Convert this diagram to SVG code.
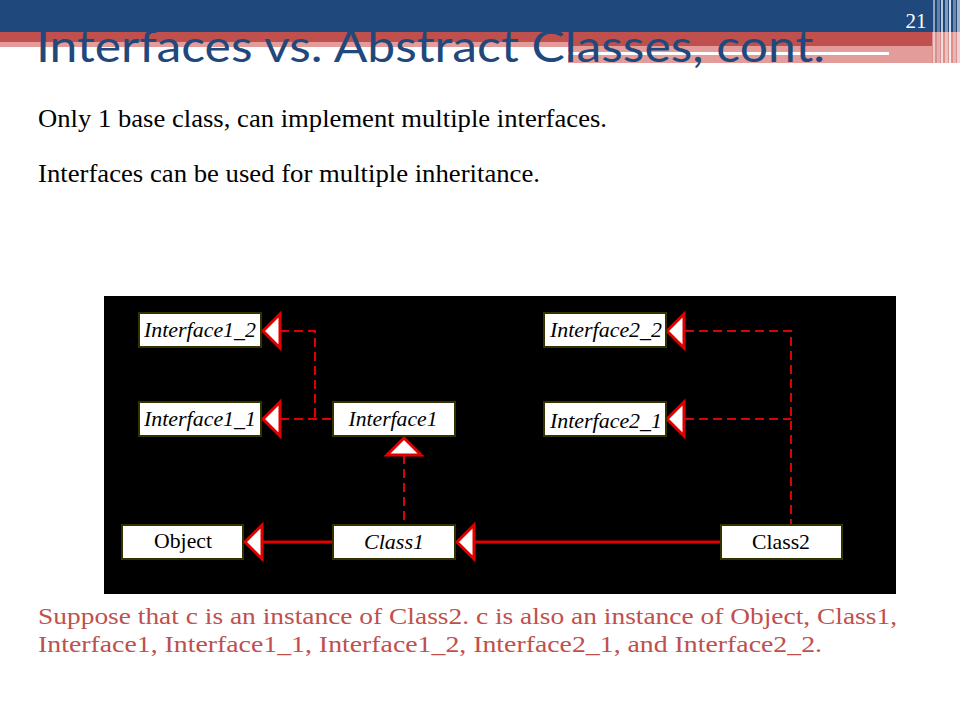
<svg xmlns="http://www.w3.org/2000/svg" width="960" height="720" viewBox="0 0 960 720">
<style>
.title{font-family:Lato,"Open Sans","DejaVu Sans",sans-serif;font-size:45px;fill:#1f497d}
.body{font-family:"Liberation Serif","Times New Roman",serif;font-size:26px;fill:#000}
.red{font-family:"Liberation Serif","Times New Roman",serif;font-size:24px;fill:#c0504d}
.box{fill:#fff;stroke:#333300;stroke-width:2}
.it{font-family:"Liberation Serif","Times New Roman",serif;font-size:21px;font-style:italic;fill:#000;text-anchor:middle}
.rm{font-family:"Liberation Serif","Times New Roman",serif;font-size:21px;fill:#000;text-anchor:middle}
.dash{fill:none;stroke:#e00000;stroke-width:2;stroke-dasharray:9,5}
.solid{fill:none;stroke:#e00000;stroke-width:3}
.tri{fill:#fff;stroke:#e00000;stroke-width:3;stroke-linejoin:miter}
</style>
<rect width="960" height="720" fill="#fff"/>
<!-- header bands -->
<rect x="0" y="0" width="960" height="32" fill="#1f497d"/>
<rect x="0" y="32" width="932" height="10" fill="#c0504d"/>
<rect x="0" y="42" width="568" height="5" fill="#e39c9a"/>
<rect x="568" y="42" width="364" height="4" fill="#c0504d"/>
<rect x="568" y="46" width="372" height="17" fill="#e39c9a"/>
<rect x="568" y="52" width="321" height="3" fill="#fff"/>
<rect x="932" y="32" width="28" height="31" fill="#d9908e"/>
<g fill="#fff">
<rect x="933" y="0" width="2" height="66" opacity="0.5"/>
<rect x="937" y="0" width="3" height="66" opacity="0.3"/>
<rect x="941" y="0" width="2" height="66" opacity="0.7"/>
<rect x="945" y="0" width="3" height="66" opacity="0.45"/>
<rect x="949" y="0" width="2" height="66" opacity="0.8"/>
<rect x="953" y="0" width="3" height="66" opacity="0.35"/>
<rect x="957" y="0" width="3" height="66" opacity="0.6"/>
</g>
<text x="916" y="28" font-family="Liberation Serif,serif" font-size="21" fill="#fff" text-anchor="middle">21</text>
<text class="title" x="36" y="62" textLength="789" lengthAdjust="spacingAndGlyphs">Interfaces vs. Abstract Classes, cont.</text>
<!-- body text -->
<text class="body" x="38" y="127" textLength="569" lengthAdjust="spacingAndGlyphs">Only 1 base class, can implement multiple interfaces.</text>
<text class="body" x="38" y="182" textLength="502" lengthAdjust="spacingAndGlyphs">Interfaces can be used for multiple inheritance.</text>
<!-- diagram background -->
<rect x="104" y="296" width="792" height="298" fill="#000"/>
<!-- connectors -->
<g id="connectors">
<polyline class="dash" points="280,331 315,331 315,419"/>
<line class="dash" x1="280" y1="419" x2="333" y2="419"/>
<line class="dash" x1="404" y1="455" x2="404" y2="525"/>
<polyline class="dash" points="685,331 791,331 791,525"/>
<line class="dash" x1="685" y1="419" x2="791" y2="419"/>
<line class="solid" x1="262" y1="542" x2="333" y2="542"/>
<line class="solid" x1="474" y1="542" x2="721" y2="542"/>
<polygon class="tri" points="263,331 280,314 280,348"/>
<polygon class="tri" points="263,419 280,402 280,436"/>
<polygon class="tri" points="404,438 387,455 421,455"/>
<polygon class="tri" points="667,331 684,314 684,348"/>
<polygon class="tri" points="667,419 684,402 684,436"/>
<polygon class="tri" points="245,542 262,525 262,559"/>
<polygon class="tri" points="457,542 474,525 474,559"/>
</g>
<!-- nodes -->
<g id="interface1_2"><rect class="box" x="139" y="313" width="122" height="34"/><text class="it" x="200" y="337" textLength="112" lengthAdjust="spacingAndGlyphs">Interface1_2</text></g>
<g id="interface1_1"><rect class="box" x="139" y="402" width="122" height="34"/><text class="it" x="200" y="426" textLength="112" lengthAdjust="spacingAndGlyphs">Interface1_1</text></g>
<g id="interface1"><rect class="box" x="333" y="402" width="122" height="34"/><text class="it" x="393" y="426" textLength="89" lengthAdjust="spacingAndGlyphs">Interface1</text></g>
<g id="interface2_2"><rect class="box" x="544" y="313" width="122" height="34"/><text class="it" x="606" y="337" textLength="112" lengthAdjust="spacingAndGlyphs">Interface2_2</text></g>
<g id="interface2_1"><rect class="box" x="544" y="402" width="122" height="34"/><text class="it" x="606" y="428" textLength="112" lengthAdjust="spacingAndGlyphs">Interface2_1</text></g>
<g id="object"><rect class="box" x="122" y="525" width="121" height="34"/><text class="rm" x="183" y="548" textLength="58" lengthAdjust="spacingAndGlyphs">Object</text></g>
<g id="class1"><rect class="box" x="333" y="525" width="122" height="34"/><text class="it" x="394" y="549" textLength="60" lengthAdjust="spacingAndGlyphs">Class1</text></g>
<g id="class2"><rect class="box" x="721" y="525" width="121" height="34"/><text class="rm" x="781" y="549" textLength="58" lengthAdjust="spacingAndGlyphs">Class2</text></g>
<!-- bottom text -->
<text class="red" x="38" y="624" textLength="859" lengthAdjust="spacingAndGlyphs">Suppose that c is an instance of Class2. c is also an instance of Object, Class1,</text>
<text class="red" x="38" y="652" textLength="784" lengthAdjust="spacingAndGlyphs">Interface1, Interface1_1, Interface1_2, Interface2_1, and Interface2_2.</text>
</svg>
